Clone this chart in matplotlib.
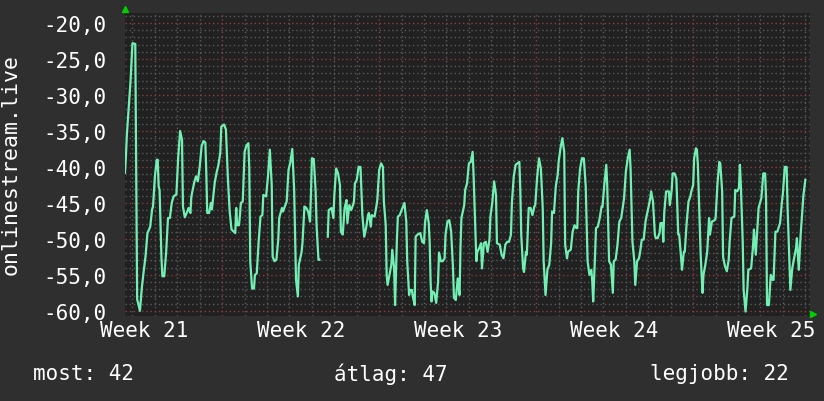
import numpy as np
import matplotlib
matplotlib.use("Agg")
import matplotlib.pyplot as plt
from matplotlib.ticker import MultipleLocator, FuncFormatter

# hours since the start of the graph, and the rank
hours = [0, 1, 2, 4, 6, 8, 11, 13, 16, 18, 20, 22, 24, 27, 29, 30, 32, 34, 35, 36,
         37, 39, 40, 42, 44, 46, 48, 50, 52, 55, 57, 59, 61, 62, 64, 66, 68, 70, 71, 74,
         76, 78, 80, 82, 84, 86, 87, 88, 90, 92, 93, 96, 98, 100, 102, 103, 106, 108, 110, 112,
         114, 118, 119, 120, 122, 123, 124, 126, 128, 130, 132, 133, 134, 136, 138, 139, 141, 143, 145, 147,
         148, 151, 153, 155, 157, 158, 160, 162, 164, 165, 168, 169, 171, 173, 175, 177, 179, 181, 182, 183,
         185, 186, 189, 190, 192, 194, 196, 198, 199, 200, 202, 204, 205, 207, 208, 212, 217, 218, 221, 223,
         224, 226, 228, 230, 231, 233, 235, 237, 238, 240, 242, 244, 245, 246, 248, 250, 252, 254, 256, 258,
         260, 261, 263, 264, 267, 269, 270, 272, 274, 276, 277, 279, 280, 281, 283, 285, 286, 288, 289, 291,
         292, 294, 296, 299, 301, 302, 304, 305, 307, 308, 310, 311, 313, 316, 318, 320, 321, 323, 325, 326,
         327, 328, 329, 331, 333, 335, 336, 338, 340, 342, 343, 345, 347, 349, 351, 352, 354, 356, 358, 359,
         360, 363, 364, 366, 368, 370, 372, 373, 375, 376, 377, 379, 381, 382, 384, 386, 388, 390, 391, 393,
         395, 397, 398, 401, 403, 405, 407, 409, 411, 413, 414, 416, 418, 420, 422, 423, 424, 426, 427, 429,
         430, 432, 434, 436, 438, 439, 441, 443, 445, 447, 448, 450, 452, 454, 456, 457, 459, 461, 463, 464,
         466, 468, 470, 471, 473, 474, 477, 479, 481, 483, 484, 485, 487, 489, 491, 493, 495, 497, 499, 500,
         501, 503, 504, 506, 508, 510, 511, 513, 515, 516, 518, 520, 522, 523, 525, 527, 529, 531, 532, 534,
         536, 538, 540, 541, 543, 545, 546, 548, 550, 551, 553, 555, 557, 558, 560, 562, 563, 565, 567, 568,
         570, 572, 573, 575, 576, 577, 579, 582, 583, 585, 586, 588, 590, 592, 593, 595, 596, 598, 599, 601,
         603, 605, 606, 608, 609, 611, 612, 613, 614, 616, 618, 619, 621, 623, 625, 626, 628, 631, 632, 634,
         636, 637, 639, 640, 642, 644, 646, 647, 649, 652, 653, 655, 657, 658, 659, 661, 662, 664, 666, 667,
         670, 672, 673, 675, 677, 678, 681, 683, 685, 686, 687, 689, 691, 693, 694, 696, 698, 701, 703, 704,
         706, 708, 709, 711, 712, 714, 716, 718, 719, 721, 723, 725, 726, 728]

rank = [-40.8, -38.5, -35.5, -31.8, -27.9, -22.8, -22.9, -58.4, -60.0, -56.8, -54.5, -52.4, -49.2, -48.3, -45.9, -45.5, -41.3, -39.0, -39.0, -42.7,
        -43.2, -52.6, -55.2, -55.2, -51.9, -47.1, -47.1, -45.0, -44.1, -43.8, -38.5, -35.0, -36.2, -45.5, -47.0, -46.4, -45.7, -46.4, -44.1, -42.2,
        -41.3, -42.0, -39.9, -37.1, -36.4, -36.6, -40.8, -46.4, -46.4, -45.0, -45.9, -42.2, -40.8, -39.7, -38.0, -34.4, -34.1, -34.8, -41.3, -46.2,
        -48.7, -49.2, -45.7, -48.1, -48.1, -46.7, -45.0, -44.8, -37.9, -37.0, -36.7, -40.2, -53.1, -56.9, -56.9, -55.0, -54.8, -50.4, -46.9, -46.7,
        -43.9, -44.1, -41.3, -37.6, -42.5, -52.5, -53.1, -52.9, -50.1, -47.1, -45.7, -46.2, -45.5, -44.8, -40.4, -39.3, -37.5, -43.2, -49.4, -55.7,
        -58.0, -53.6, -51.8, -50.4, -45.5, -45.7, -46.2, -47.6, -43.7, -38.8, -38.9, -43.4, -48.1, -52.9, -52.9, np.nan, -49.7, -46.0, -45.7, -47.1,
        -43.9, -40.2, -40.9, -42.5, -49.0, -49.4, -45.7, -44.6, -47.8, -45.3, -46.0, -45.3, -44.8, -42.3, -41.8, -40.0, -40.0, -46.7, -49.7, -48.5,
        -46.7, -46.4, -48.3, -46.7, -46.9, -45.5, -44.6, -40.4, -39.5, -40.0, -44.8, -48.1, -55.0, -56.4, -55.0, -53.6, -51.5, -54.1, -59.2, -49.9,
        -46.9, -46.7, -46.0, -45.0, -47.6, -53.1, -57.8, -57.1, -57.1, -58.0, -59.2, -49.7, -49.4, -49.2, -50.4, -50.6, -47.8, -46.0, -47.8, -50.4,
        -55.9, -58.7, -57.3, -57.5, -58.9, -56.0, -51.9, -53.1, -53.1, -52.7, -49.4, -47.6, -47.4, -49.0, -54.1, -58.2, -58.5, -55.5, -57.8, -51.2,
        -47.1, -45.3, -43.2, -42.3, -39.5, -39.3, -37.9, -41.1, -49.0, -53.1, -51.8, -51.3, -50.6, -54.1, -50.6, -50.4, -51.8, -50.1, -46.9, -45.0,
        -42.0, -43.9, -50.6, -50.8, -52.2, -52.7, -50.8, -50.4, -50.4, -49.4, -45.0, -41.3, -39.7, -39.5, -39.3, -43.2, -49.4, -54.1, -54.6, -51.8,
        -52.2, -45.7, -45.7, -46.7, -45.5, -45.3, -41.5, -38.8, -40.2, -45.7, -53.1, -57.8, -54.3, -53.6, -50.6, -46.2, -46.4, -42.7, -41.1, -39.3,
        -37.4, -36.0, -37.9, -50.8, -52.7, -51.8, -51.5, -49.0, -48.1, -48.5, -48.5, -43.4, -40.2, -38.8, -38.8, -42.7, -53.1, -55.0, -54.3, -55.9,
        -58.7, -52.2, -48.5, -48.3, -47.1, -45.5, -45.5, -42.3, -39.7, -42.5, -53.1, -53.6, -57.5, -53.1, -52.9, -50.8, -47.6, -47.1, -46.2, -44.4,
        -40.6, -38.8, -37.6, -40.2, -50.4, -53.1, -56.4, -53.1, -52.7, -52.0, -50.1, -50.1, -47.6, -46.9, -45.7, -44.4, -43.4, -44.8, -49.4, -49.9,
        -49.9, -49.2, -47.8, -47.8, -50.4, -46.4, -43.4, -43.4, -45.3, -43.2, -40.9, -40.9, -41.6, -49.4, -49.4, -52.5, -54.3, -51.8, -51.8, -47.8,
        -44.8, -44.1, -43.4, -42.5, -38.8, -37.4, -37.6, -39.7, -43.9, -52.2, -57.5, -55.0, -53.6, -51.8, -47.1, -49.4, -47.6, -47.4, -47.1, -42.3,
        -39.3, -39.5, -43.4, -52.5, -53.8, -54.5, -52.9, -50.4, -47.1, -46.9, -43.2, -43.4, -42.9, -39.7, -42.5, -50.4, -57.1, -60.1, -56.9, -54.3,
        -54.1, -51.1, -48.7, -52.2, -48.0, -45.7, -44.3, -40.9, -40.9, -44.6, -59.2, -59.2, -55.0, -55.7, -55.7, -49.0, -49.0, -47.8, -44.8, -43.7,
        -40.0, -40.0, -45.7, -53.1, -57.1, -54.1, -52.7, -51.3, -49.9, -54.3, -49.4, -45.7, -43.9, -41.8]

week_names = ["Week 21", "Week 22", "Week 23", "Week 24", "Week 25"]
first_week_start = 104   # hour of the first Monday 00:00
span_hours = 733

legend_most = 42
legend_atlag = 47
legend_legjobb = 22

outer_bg = "#2f2f2f"
plot_bg = "#212121"
line_col = "#72f0b4"
minor_grid = "#5a5a5a"
major_grid = "#8c3c3c"
mono = "DejaVu Sans Mono"

fig = plt.figure(figsize=(8.24, 4.02), dpi=100, facecolor=outer_bg)
ax = fig.add_axes([125 / 824, (402 - 316.5) / 402, 685 / 824, 302.5 / 402])
ax.set_facecolor(plot_bg)
ax.set_xlim(0, span_hours)
ax.set_ylim(-60.65, -18.6)

# grid: daily / unit lines grey, weekly / 5-unit lines red
for h in np.arange(first_week_start - 96, span_hours, 24):
    is_week = (h - first_week_start) % 168 == 0
    ax.axvline(h, color=major_grid if is_week else minor_grid, lw=1.0,
               ls=(0, (1, 2)), zorder=1)
for v in np.arange(-60, -18, 1):
    ax.axhline(v, color=major_grid if v % 5 == 0 else minor_grid, lw=1.0,
               ls=(0, (1, 2)), zorder=1)

ax.plot(hours, rank, color=line_col, lw=1.6, zorder=3)

# ticks and labels
week_centers = [first_week_start - 84 + 168 * i for i in range(len(week_names))]
ax.set_xticks(week_centers, week_names)
ax.yaxis.set_major_locator(MultipleLocator(5))
ax.yaxis.set_major_formatter(FuncFormatter(lambda v, p: f"{v:.1f}".replace(".", ",")))
ax.tick_params(axis="x", length=0, pad=3, labelsize=15, labelcolor="white")
ax.tick_params(axis="y", length=0, pad=13, labelsize=15, labelcolor="white")
for lab in ax.get_xticklabels() + ax.get_yticklabels():
    lab.set_fontfamily(mono)
for s in ax.spines.values():
    s.set_visible(False)

fig.text(11 / 824, 0.59, "onlinestream.live", rotation=90, color="white",
         fontsize=15.5, family=mono, ha="center", va="center")

# small green axis arrows
ax.plot([0], [1.013], marker="^", ms=4.5, color="#00d000", transform=ax.transAxes,
        clip_on=False, zorder=5)
ax.plot([1.005], [0.006], marker=">", ms=4.5, color="#00d000", transform=ax.transAxes,
        clip_on=False, zorder=5)

# legend line at the bottom
ty = 1 - 374 / 402
fig.text(33 / 824, ty, f"most: {legend_most}", color="white", fontsize=15, family=mono, va="center")
fig.text(334 / 824, ty, f"átlag: {legend_atlag}", color="white", fontsize=15, family=mono, va="center")
fig.text(650 / 824, ty, f"legjobb: {legend_legjobb}", color="white", fontsize=15, family=mono, va="center")

fig.savefig("out.png", dpi=100, facecolor=outer_bg)
